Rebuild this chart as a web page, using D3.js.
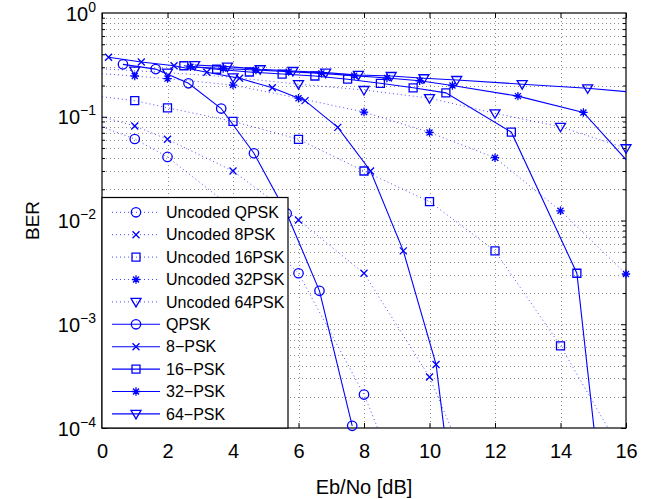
<!DOCTYPE html>
<html>
<head>
<meta charset="utf-8">
<script src="https://cdn.jsdelivr.net/npm/d3@7"></script>
<style>
  body { margin: 0; background: #fff; }
  text { font-family: "Liberation Sans", Arial, sans-serif; }
</style>
</head>
<body>
<svg id="chart"></svg>
<script>
// x ticks / y decades
const xTicks = [0, 2, 4, 6, 8, 10, 12, 14, 16];
const yExponents = [0, -1, -2, -3, -4];

// uncoded curves (dotted)
const uncodedEbNo = [0, 1, 2, 4, 6, 8, 10, 12, 14, 16];
const uncodedQPSK = [0.08, 0.061, 0.041, 0.013, 0.0031, 0.00021, 0.000006, null, null, null];
const uncoded8PSK = [0.1, 0.0815, 0.0606, 0.030, 0.0101, 0.0031, 0.00031, 0.00001, null, null];
const uncoded16PSK = [0.156, 0.143, 0.122, 0.0904, 0.0606, 0.030, 0.0152, 0.0051, 0.00062, 0.00005];
const uncoded32PSK = [0.26, 0.247, 0.233, 0.202, 0.151, 0.111, 0.0706, 0.0403, 0.0124, 0.00305];
const uncoded64PSK = [0.29, 0.278, 0.266, 0.24, 0.206, 0.181, 0.151, 0.108, 0.080, 0.0497];

// coded curves (solid)
const qpskEbNo = [0.64, 1.64, 2.64, 3.64, 4.64, 5.64, 6.64, 7.64];
const qpskBER = [0.32, 0.288, 0.21, 0.12, 0.0445, 0.0117, 0.0021, 0.000105];
const psk8EbNo = [0.2, 1.2, 2.2, 3.2, 4.2, 5.2, 6.2, 7.2, 8.2, 9.2, 10.2, 11.2];
const psk8BER = [0.374, 0.337, 0.31, 0.268, 0.235, 0.19, 0.143, 0.079, 0.030, 0.0051, 0.00041, 0.0000012];
const psk16EbNo = [2.5, 3.5, 4.5, 5.5, 6.5, 7.5, 8.5, 9.5, 10.5, 12.5, 14.5, 16.5];
const psk16BER = [0.31, 0.287, 0.27, 0.258, 0.247, 0.23, 0.21, 0.19, 0.17, 0.071, 0.0031, 0.000000006];
const psk32EbNo = [2.7, 3.7, 4.7, 5.7, 6.7, 7.7, 8.7, 9.7, 10.7, 12.7, 14.7, 16.7];
const psk32BER = [0.303, 0.292, 0.282, 0.272, 0.262, 0.249, 0.236, 0.222, 0.2, 0.158, 0.11, 0.022];
const psk64EbNo = [2.83, 3.83, 4.83, 5.83, 6.83, 7.83, 8.83, 9.83, 10.83, 12.83, 14.83, 16.83];
const psk64BER = [0.315, 0.304, 0.287, 0.276, 0.266, 0.253, 0.247, 0.235, 0.226, 0.206, 0.188, 0.166];

const legendLabels = ["Uncoded QPSK", "Uncoded 8PSK", "Uncoded 16PSK", "Uncoded 32PSK", "Uncoded 64PSK",
    "QPSK", "8\u2212PSK", "16\u2212PSK", "32\u2212PSK", "64\u2212PSK"];

const series = [
    {x: uncodedEbNo, y: uncodedQPSK, marker: "o", dotted: true},
    {x: uncodedEbNo, y: uncoded8PSK, marker: "x", dotted: true},
    {x: uncodedEbNo, y: uncoded16PSK, marker: "s", dotted: true},
    {x: uncodedEbNo, y: uncoded32PSK, marker: "*", dotted: true},
    {x: uncodedEbNo, y: uncoded64PSK, marker: "v", dotted: true},
    {x: qpskEbNo, y: qpskBER, marker: "o", dotted: false},
    {x: psk8EbNo, y: psk8BER, marker: "x", dotted: false},
    {x: psk16EbNo, y: psk16BER, marker: "s", dotted: false},
    {x: psk32EbNo, y: psk32BER, marker: "*", dotted: false},
    {x: psk64EbNo, y: psk64BER, marker: "v", dotted: false},
];

const W = 664, H = 499;
const m = {left: 102, right: 626, top: 13, bottom: 428};
const blue = "#0000ff";

const svg = d3.select("#chart").attr("width", W).attr("height", H);
svg.append("rect").attr("width", W).attr("height", H).attr("fill", "#fff");

const x = d3.scaleLinear().domain([0, 16]).range([m.left, m.right]);
const y = d3.scaleLog().domain([1e-4, 1]).range([m.bottom, m.top]);

svg.append("clipPath").attr("id", "clip")
    .append("rect")
    .attr("x", m.left).attr("y", m.top)
    .attr("width", m.right - m.left).attr("height", m.bottom - m.top);

// grid
const minorVals = [];
yExponents.slice(1).forEach(e => {
    for (let k = 1; k <= 9; k++) minorVals.push(k * Math.pow(10, e));
});
const grid = svg.append("g").attr("stroke", "#000").attr("stroke-width", 0.6)
    .attr("stroke-dasharray", "1 3").attr("opacity", 0.75);
grid.selectAll("line.h").data(minorVals.filter(v => v > 1e-4 && v < 1)).join("line")
    .attr("x1", m.left).attr("x2", m.right)
    .attr("y1", d => Math.round(y(d)) + 0.5).attr("y2", d => Math.round(y(d)) + 0.5);
grid.selectAll("line.v").data(xTicks.slice(1, -1)).join("line")
    .attr("y1", m.top).attr("y2", m.bottom)
    .attr("x1", d => Math.round(x(d)) + 0.5).attr("x2", d => Math.round(x(d)) + 0.5);

// axes with inward ticks
const xAxisB = d3.axisBottom(x).tickValues(xTicks).tickSizeInner(-5).tickSizeOuter(0).tickPadding(16);
const gx = svg.append("g").attr("transform", `translate(0,${m.bottom})`).call(xAxisB);
gx.select(".domain").remove();
gx.selectAll("text").attr("font-size", 20).attr("fill", "#000");
svg.append("g").attr("transform", `translate(0,${m.top})`)
    .call(d3.axisTop(x).tickValues(xTicks).tickSizeInner(-5).tickSizeOuter(0).tickFormat(""))
    .select(".domain").remove();

const isDecade = d => Math.abs(Math.log10(d) - Math.round(Math.log10(d))) < 1e-9;
const gy = svg.append("g").attr("transform", `translate(${m.left},0)`)
    .call(d3.axisLeft(y).tickValues(minorVals).tickSizeInner(-3).tickSizeOuter(0).tickFormat(""));
gy.select(".domain").remove();
gy.selectAll(".tick line").filter(isDecade).attr("x2", 5);
const gyr = svg.append("g").attr("transform", `translate(${m.right},0)`)
    .call(d3.axisRight(y).tickValues(minorVals).tickSizeInner(-3).tickSizeOuter(0).tickFormat(""));
gyr.select(".domain").remove();
gyr.selectAll(".tick line").filter(isDecade).attr("x2", -5);

// y labels 10^k
const yl = svg.append("g").selectAll("text").data(yExponents).join("text")
    .attr("x", 96).attr("y", d => y(Math.pow(10, d)) + 7.5)
    .attr("text-anchor", "end").attr("font-size", 20);
yl.append("tspan").text("10");
yl.append("tspan").attr("dy", -9).attr("font-size", 14).text(d => d === 0 ? "0" : "\u2212" + Math.abs(d));

// box
svg.append("rect").attr("x", m.left).attr("y", m.top)
    .attr("width", m.right - m.left).attr("height", m.bottom - m.top)
    .attr("fill", "none").attr("stroke", "#000").attr("stroke-width", 1.2);

// markers
function markerPath(type) {
    const r = 4.7;
    if (type === "o") return d3.symbol(d3.symbolCircle, Math.PI * r * r)();
    if (type === "s") return "M-4,-4H4V4H-4Z";
    if (type === "x") return "M-3.5,-3.5L3.5,3.5M-3.5,3.5L3.5,-3.5";
    if (type === "*") return "M-4.2,0H4.2M0,-4.2V4.2M-3,-3L3,3M-3,3L3,-3";
    if (type === "v") return "M-5,-3.5H5L0,5Z";
}

const line = d3.line()
    .defined(d => d[1] !== null)
    .x(d => x(d[0])).y(d => y(d[1]));

const plot = svg.append("g").attr("clip-path", "url(#clip)");
series.forEach(s => {
    const pts = s.x.map((v, i) => [v, s.y[i]]);
    plot.append("path").datum(pts)
        .attr("d", line)
        .attr("fill", "none")
        .attr("stroke", blue)
        .attr("stroke-width", s.dotted ? 1 : 1.1)
        .attr("stroke-dasharray", s.dotted ? "1 3" : null)
        .attr("opacity", s.dotted ? 0.7 : 1);
});
series.forEach(s => {
    const pts = s.x.map((v, i) => [v, s.y[i]])
        .filter(d => d[1] !== null && d[0] > 0 && d[0] <= 16 && d[1] >= 1e-4 && d[1] <= 1);
    svg.append("g").selectAll("path").data(pts).join("path")
        .attr("transform", d => `translate(${x(d[0])},${y(d[1])})`)
        .attr("d", markerPath(s.marker))
        .attr("fill", "none").attr("stroke", blue).attr("stroke-width", 1.3);
});

// legend
const lg = svg.append("g");
lg.append("rect").attr("x", m.left).attr("y", 197.5).attr("width", 186).attr("height", m.bottom - 197.5)
    .attr("fill", "#fff").attr("stroke", "#000").attr("stroke-width", 1.2);
const rows = lg.selectAll("g.row").data(series).join("g")
    .attr("transform", (d, i) => `translate(0,${212.3 + i * 22.4})`);
rows.append("line").attr("x1", 112).attr("x2", 160).attr("y1", 0).attr("y2", 0)
    .attr("stroke", blue).attr("stroke-width", d => d.dotted ? 1 : 1.1)
    .attr("stroke-dasharray", d => d.dotted ? "1 3" : null).attr("opacity", d => d.dotted ? 0.7 : 1);
rows.append("path").attr("transform", "translate(136,0)")
    .attr("d", d => markerPath(d.marker))
    .attr("fill", "none").attr("stroke", blue).attr("stroke-width", 1.3);
rows.append("text").attr("x", 166).attr("y", 0).attr("dy", "0.35em")
    .attr("font-size", 16).text((d, i) => legendLabels[i]);

// axis titles
svg.append("text").attr("x", (m.left + m.right) / 2).attr("y", 494)
    .attr("text-anchor", "middle").attr("font-size", 20).text("Eb/No [dB]");
svg.append("text").attr("transform", `translate(39,${(m.top + m.bottom) / 2}) rotate(-90)`)
    .attr("text-anchor", "middle").attr("font-size", 19).text("BER");
</script>
</body>
</html>
